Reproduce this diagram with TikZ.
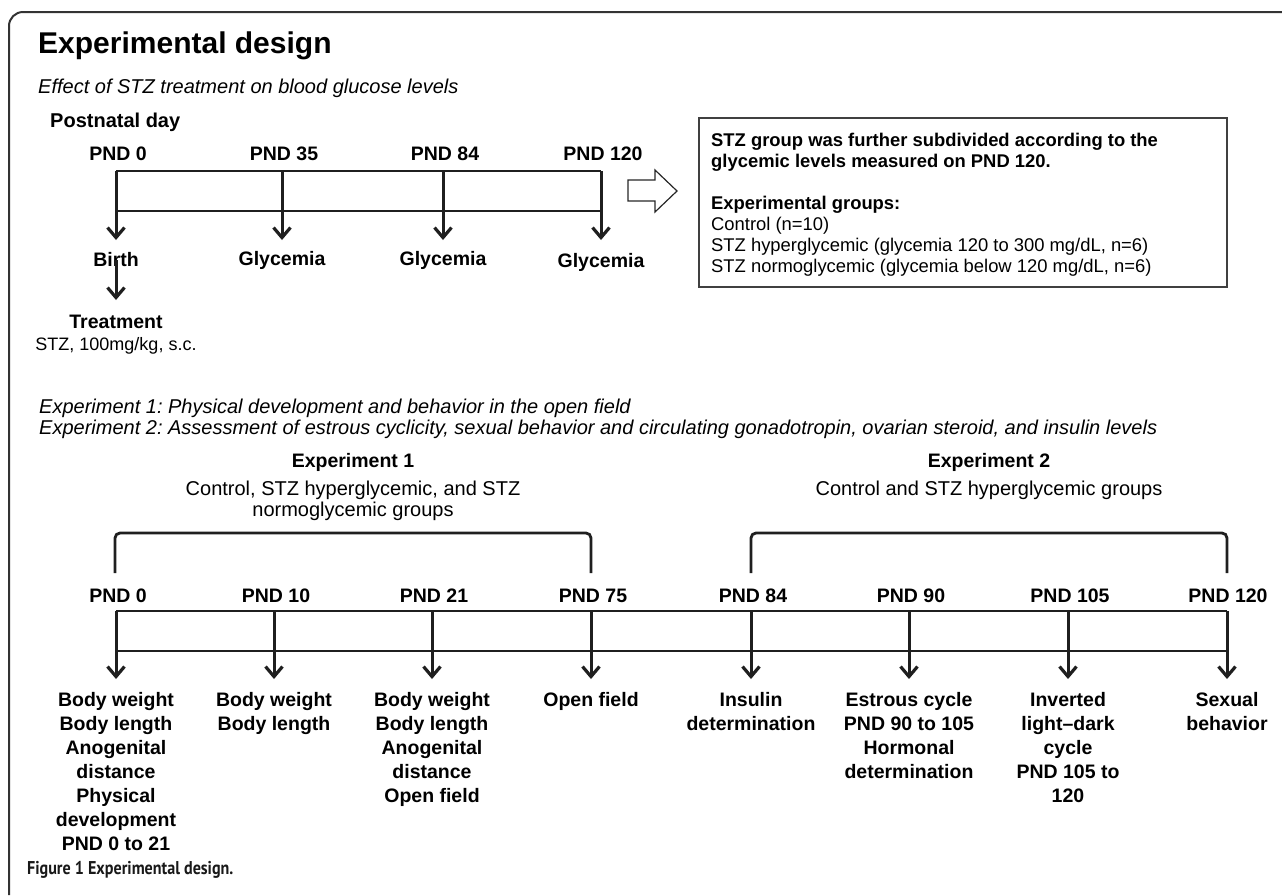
\documentclass[tikz,border=0pt]{standalone}
\usepackage{fontspec}
\setmainfont{Liberation Sans}
\newfontfamily\capfont[FakeStretch=0.87]{PT Sans}
\usetikzlibrary{arrows.meta}
\frenchspacing

\tikzset{
  lbl/.style={font=\fontsize{19.5}{24}\selectfont\bfseries, align=center, inner sep=0pt, anchor=base},
  outc/.style={lbl, anchor=north},
  boxtxt/.style={font=\fontsize{18.4}{21}\selectfont, align=left, inner sep=0pt, anchor=base west},
  sub/.style={font=\fontsize{20}{21}\selectfont, align=center, inner sep=0pt, anchor=north},
  itl/.style={font=\fontsize{20}{21}\selectfont\itshape, inner sep=0pt, anchor=base west},
  rail/.style={line width=2pt, color=black!88},
  tick/.style={line width=3pt, color=black!88, -{Straight Barb[length=10pt,width=17pt,line width=3.2pt]}},
  brk/.style={line width=2.8pt, rounded corners=5pt, color=black!88},
}

\begin{document}
\begin{tikzpicture}[x=1pt,y=-1pt]
        \useasboundingbox (0,0) rectangle (1282,895);
        % frame
        \draw [line width=2pt, black!80, rounded corners=14pt] (9,895)--(9,12)--(1282,12);

        \node (hdr) [anchor=base west, inner sep=0pt, font=\fontsize{30}{32}\selectfont\bfseries] at (38,53) {Experimental design};
        \node (eff) [itl] at (38,93) {Effect of STZ treatment on blood glucose levels};
        \node (pnd) [lbl, anchor=base west, font=\fontsize{20}{24}\selectfont\bfseries] at (50,127) {Postnatal day};

        % top time line
        \node (ta0) [lbl] at (118,160) {PND 0};
        \node (ta1) [lbl] at (284,160) {PND 35};
        \node (ta2) [lbl] at (445,160) {PND 84};
        \node (ta3) [lbl] at (603,160) {PND 120};
        \coordinate (ua0) at (116,171);
        \coordinate (ua1) at (282,171);
        \coordinate (ua2) at (443,171);
        \coordinate (ua3) at (601,171);
        \coordinate (la0) at (116,211);
        \coordinate (la3) at (601,211);
        \coordinate (va0) at (116,240);
        \coordinate (va1) at (282,240);
        \coordinate (va2) at (443,240);
        \coordinate (va3) at (601,240);
        \draw [rail] (ua0)--(ua3);
        \draw [rail] (la0)--(la3);
        \draw [tick] (ua0)--(va0);
        \draw [tick] (ua1)--(va1);
        \draw [tick] (ua2)--(va2);
        \draw [tick] (ua3)--(va3);

        \node (birth) [lbl] at (116,266) {Birth};
        \node (gly1) [lbl] at (282,265) {Glycemia};
        \node (gly2) [lbl] at (443,265) {Glycemia};
        \node (gly3) [lbl] at (601,267) {Glycemia};
        \node (trt) [lbl] at (116,328) {Treatment};
        \node (stz) [boxtxt, anchor=base, font=\fontsize{18}{21}\selectfont] at (116,350) {STZ, 100mg/kg, s.c.};
        \coordinate (vtr) at (116,300);
        \draw [tick] ([yshift=6pt]birth.south)--(vtr);

        % hollow arrow and groups box
        \draw [line width=1.2pt, black!85] (628,180)--(655,180)--(655,170)--(677,191)--(655,212)--(655,201)--(628,201)--cycle;
        \draw [line width=1.5pt, black!75] (699,118) rectangle (1227,287);
        \node (grp) [boxtxt, anchor=north west] at (711,132.6) {\textbf{STZ group was further subdivided according to the}\\
            \textbf{glycemic levels measured on PND 120.}\\[21pt]
            \textbf{Experimental groups:}\\
            Control (n=10)\\
            STZ hyperglycemic (glycemia 120 to 300 mg/dL, n=6)\\
            STZ normoglycemic (glycemia below 120 mg/dL, n=6)};

        \node (exa) [itl] at (39,413) {Experiment 1: Physical development and behavior in the open field};
        \node (exb) [itl] at (39,434) {Experiment 2: Assessment of estrous cyclicity, sexual behavior and circulating gonadotropin, ovarian steroid, and insulin levels};

        % experiment brackets
        \node (ex1) [lbl] at (353,467) {Experiment 1};
        \node (ex1s) [sub] at (353,481) {Control, STZ hyperglycemic, and STZ\\normoglycemic groups};
        \node (ex2) [lbl] at (989,467) {Experiment 2};
        \node (ex2s) [sub] at (989,481) {Control and STZ hyperglycemic groups};
        \draw [brk] (115,573)--(115,533)--(591,533)--(591,573);
        \draw [brk] (751,573)--(751,533)--(1227,533)--(1227,573);

        % bottom time line
        \node (pb0) [lbl] at (118,602) {PND 0};
        \node (pb1) [lbl] at (276,602) {PND 10};
        \node (pb2) [lbl] at (434,602) {PND 21};
        \node (pb3) [lbl] at (593,602) {PND 75};
        \node (pb4) [lbl] at (753,602) {PND 84};
        \node (pb5) [lbl] at (911,602) {PND 90};
        \node (pb6) [lbl] at (1070,602) {PND 105};
        \node (pb7) [lbl] at (1228,602) {PND 120};
        \coordinate (ub0) at (116,611);
        \coordinate (ub1) at (274,611);
        \coordinate (ub2) at (432,611);
        \coordinate (ub3) at (591,611);
        \coordinate (ub4) at (751,611);
        \coordinate (ub5) at (909,611);
        \coordinate (ub6) at (1068,611);
        \coordinate (ub7) at (1227,611);
        \coordinate (lb0) at (116,651);
        \coordinate (lb7) at (1227,651);
        \coordinate (vb0) at (116,679);
        \coordinate (vb1) at (274,679);
        \coordinate (vb2) at (432,679);
        \coordinate (vb3) at (591,679);
        \coordinate (vb4) at (751,679);
        \coordinate (vb5) at (909,679);
        \coordinate (vb6) at (1068,679);
        \coordinate (vb7) at (1227,679);
        \draw [rail] (ub0)--(ub7);
        \draw [rail] (lb0)--(lb7);
        \draw [tick] (ub0)--(vb0);
        \draw [tick] (ub1)--(vb1);
        \draw [tick] (ub2)--(vb2);
        \draw [tick] (ub3)--(vb3);
        \draw [tick] (ub4)--(vb4);
        \draw [tick] (ub5)--(vb5);
        \draw [tick] (ub6)--(vb6);
        \draw [tick] (ub7)--(vb7);

        \node (ob0) [outc] at (116,692) {Body weight\\Body length\\Anogenital\\distance\\Physical\\development\\PND 0 to 21};
        \node (ob1) [outc] at (274,692) {Body weight\\Body length};
        \node (ob2) [outc] at (432,692) {Body weight\\Body length\\Anogenital\\distance\\Open field};
        \node (ob3) [outc] at (591,692) {Open field};
        \node (ob4) [outc] at (751,692) {Insulin\\determination};
        \node (ob5) [outc] at (909,692) {Estrous cycle\\PND 90 to 105\\Hormonal\\determination};
        \node (ob6) [outc] at (1068,692) {Inverted\\light--dark\\cycle\\PND 105 to\\120};
        \node (ob7) [outc] at (1227,692) {Sexual\\behavior};

        \node (cap) [anchor=base west, inner sep=0pt, font=\fontsize{18.5}{22}\selectfont\capfont\bfseries, black!90] at (27,874) {Figure 1 Experimental design.};
\end{tikzpicture}
\end{document}
